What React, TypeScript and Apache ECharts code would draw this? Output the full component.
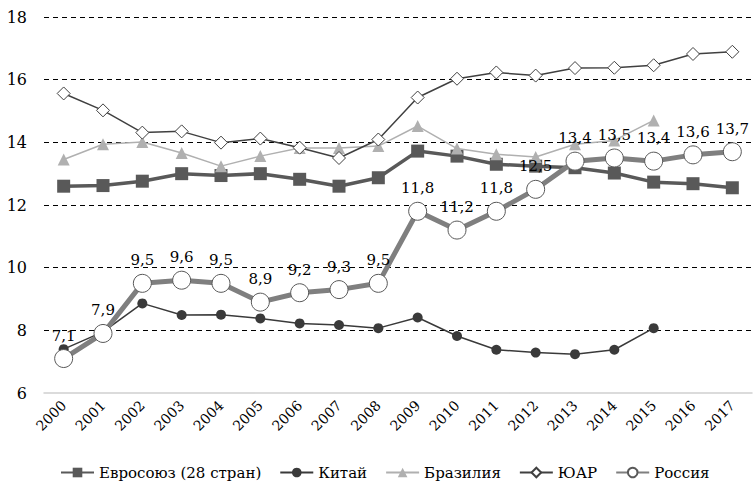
import React, { useEffect, useRef } from "react";
import * as echarts from "echarts";

const years = ["2000","2001","2002","2003","2004","2005","2006","2007","2008","2009","2010","2011","2012","2013","2014","2015","2016","2017"];
const eu = [12.6, 12.62, 12.76, 13.0, 12.94, 13.0, 12.82, 12.6, 12.87, 13.72, 13.56, 13.3, 13.24, 13.19, 13.02, 12.73, 12.68, 12.55];
const china = [7.4, 7.95, 8.86, 8.49, 8.5, 8.38, 8.22, 8.17, 8.07, 8.41, 7.82, 7.38, 7.29, 7.24, 7.38, 8.07, null, null];
const brazil = [13.45, 13.94, 14.01, 13.66, 13.24, 13.56, 13.82, 13.82, 13.88, 14.52, 13.8, 13.62, 13.53, 13.94, 14.06, 14.7, null, null];
const sa = [15.56, 15.02, 14.31, 14.35, 13.99, 14.12, 13.83, 13.5, 14.09, 15.43, 16.03, 16.23, 16.13, 16.37, 16.38, 16.46, 16.82, 16.89];
const russia = [7.1, 7.9, 9.5, 9.6, 9.5, 8.9, 9.2, 9.3, 9.5, 11.8, 11.2, 11.8, 12.5, 13.4, 13.5, 13.4, 13.6, 13.7];
const names = ["Евросоюз (28 стран)", "Китай", "Бразилия", "ЮАР", "Россия"];

const FONT = "DejaVu Serif";

export default function App() {
  const ref = useRef<HTMLDivElement>(null);
  useEffect(() => {
    if (!ref.current) return;
    const chart = echarts.init(ref.current, null, { renderer: "svg" });
    chart.setOption({
      animation: false,
      backgroundColor: "#ffffff",
      textStyle: { fontFamily: FONT },
      grid: { left: 44, right: 1, top: 17, bottom: 92, containLabel: false },
      xAxis: {
        type: "category",
        data: years,
        boundaryGap: true,
        axisLine: { show: true, lineStyle: { color: "#d0d0d0", width: 1.5 } },
        axisTick: { show: false },
        axisLabel: { rotate: 45, margin: 10, fontSize: 14, color: "#000", fontFamily: FONT },
      },
      yAxis: {
        type: "value",
        min: 6,
        max: 18,
        interval: 2,
        axisLine: { show: false },
        axisTick: { show: false },
        axisLabel: { margin: 17, fontSize: 16, color: "#000", fontFamily: FONT },
        splitLine: {
          show: true,
          lineStyle: {
            color: ["rgba(0,0,0,0)", "#000", "#000", "#000", "#000", "#000", "#000"],
            type: [5, 4],
            width: 1,
          },
        },
      },
      legend: {
        data: names,
        left: 55,
        top: 460,
        itemWidth: 33,
        itemHeight: 12,
        itemGap: 18,
        textStyle: { fontSize: 15, color: "#000", fontFamily: FONT },
      },
      series: [
        {
          name: names[0],
          type: "line",
          data: eu,
          symbol: "rect",
          symbolSize: 13,
          lineStyle: { color: "#595959", width: 3.5 },
          itemStyle: { color: "#595959" },
          z: 2,
        },
        {
          name: names[1],
          type: "line",
          data: china,
          symbol: "circle",
          symbolSize: 10,
          lineStyle: { color: "#3a3a3a", width: 1.5 },
          itemStyle: { color: "#3a3a3a" },
          z: 3,
        },
        {
          name: names[2],
          type: "line",
          data: brazil,
          symbol: "triangle",
          symbolSize: 12,
          lineStyle: { color: "#b0b0b0", width: 1.5 },
          itemStyle: { color: "#b0b0b0" },
          z: 4,
        },
        {
          name: names[3],
          type: "line",
          data: sa,
          symbol: "diamond",
          symbolSize: [13, 13],
          lineStyle: { color: "#404040", width: 1.5 },
          itemStyle: { color: "#ffffff", borderColor: "#404040", borderWidth: 1 },
          z: 5,
        },
        {
          name: names[4],
          type: "line",
          data: russia,
          symbol: "circle",
          symbolSize: 18,
          showAllSymbol: true,
          lineStyle: { color: "#7f7f7f", width: 5 },
          itemStyle: { color: "#ffffff", borderColor: "#595959", borderWidth: 1 },
          label: {
            show: true,
            position: "top",
            distance: 6,
            fontSize: 15,
            color: "#000",
            fontFamily: FONT,
            formatter: (p: any) => String(p.value).replace(".", ","),
          },
          z: 6,
        },
      ],
    });
    return () => chart.dispose();
  }, []);
  return (
    <div
      ref={ref}
      style={{ position: "fixed", left: 0, top: 0, width: 753, height: 485, background: "#fff" }}
    />
  );
}
